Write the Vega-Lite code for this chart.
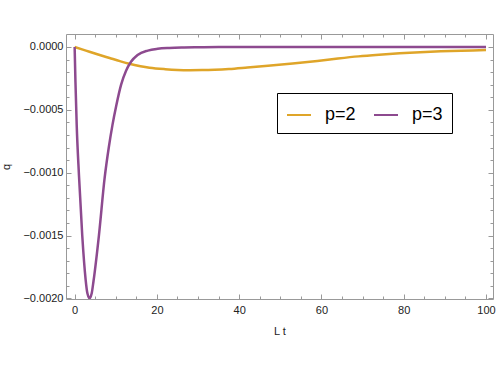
{
  "$schema": "https://vega.github.io/schema/vega-lite/v6.json",
  "width": 427,
  "height": 265,
  "autosize": "none",
  "padding": {"left": 66, "top": 34, "right": 5, "bottom": 75},
  "config": {
    "font": "Liberation Sans",
    "view": {"stroke": null},
    "axis": {
      "grid": false,
      "labelFontSize": 11,
      "labelColor": "#222222",
      "tickColor": "#999999",
      "domainColor": "#999999",
      "titleFontSize": 11,
      "titleFontWeight": "normal",
      "titleColor": "#222222"
    }
  },
  "data": {
    "values": [
      {"t": 0, "q": 0, "p": "p=2"},
      {"t": 2, "q": -0.000021, "p": "p=2"},
      {"t": 3.6, "q": -0.000038, "p": "p=2"},
      {"t": 5.9, "q": -0.000062, "p": "p=2"},
      {"t": 8.5, "q": -0.000088, "p": "p=2"},
      {"t": 11, "q": -0.000113, "p": "p=2"},
      {"t": 13.3, "q": -0.000134, "p": "p=2"},
      {"t": 16, "q": -0.000153, "p": "p=2"},
      {"t": 18.2, "q": -0.000165, "p": "p=2"},
      {"t": 22, "q": -0.000177, "p": "p=2"},
      {"t": 25, "q": -0.000183, "p": "p=2"},
      {"t": 28, "q": -0.000185, "p": "p=2"},
      {"t": 31, "q": -0.000184, "p": "p=2"},
      {"t": 34, "q": -0.000181, "p": "p=2"},
      {"t": 37.5, "q": -0.000175, "p": "p=2"},
      {"t": 42, "q": -0.000163, "p": "p=2"},
      {"t": 47, "q": -0.000149, "p": "p=2"},
      {"t": 53, "q": -0.000131, "p": "p=2"},
      {"t": 59, "q": -0.000111, "p": "p=2"},
      {"t": 64, "q": -0.000092, "p": "p=2"},
      {"t": 69, "q": -0.000075, "p": "p=2"},
      {"t": 74, "q": -0.000062, "p": "p=2"},
      {"t": 79, "q": -0.000051, "p": "p=2"},
      {"t": 84, "q": -0.000042, "p": "p=2"},
      {"t": 89, "q": -0.000035, "p": "p=2"},
      {"t": 94, "q": -0.00003, "p": "p=2"},
      {"t": 100, "q": -0.000025, "p": "p=2"},
      {"t": 0, "q": 0, "p": "p=3"},
      {"t": 0.2, "q": -0.00028, "p": "p=3"},
      {"t": 0.5, "q": -0.00062, "p": "p=3"},
      {"t": 1.05, "q": -0.00102, "p": "p=3"},
      {"t": 1.85, "q": -0.0015, "p": "p=3"},
      {"t": 2.67, "q": -0.00185, "p": "p=3"},
      {"t": 3.1, "q": -0.00196, "p": "p=3"},
      {"t": 3.63, "q": -0.002, "p": "p=3"},
      {"t": 4.15, "q": -0.00196, "p": "p=3"},
      {"t": 4.6, "q": -0.00186, "p": "p=3"},
      {"t": 5.9, "q": -0.0015, "p": "p=3"},
      {"t": 7.3, "q": -0.00104, "p": "p=3"},
      {"t": 8.3, "q": -0.0008, "p": "p=3"},
      {"t": 9.2, "q": -0.00062, "p": "p=3"},
      {"t": 10.1, "q": -0.00047, "p": "p=3"},
      {"t": 11.3, "q": -0.0003, "p": "p=3"},
      {"t": 12.5, "q": -0.00019, "p": "p=3"},
      {"t": 13.7, "q": -0.000118, "p": "p=3"},
      {"t": 15.3, "q": -0.000064, "p": "p=3"},
      {"t": 17.8, "q": -0.000029, "p": "p=3"},
      {"t": 20.2, "q": -0.000015, "p": "p=3"},
      {"t": 23, "q": -0.000008, "p": "p=3"},
      {"t": 26, "q": -0.000004, "p": "p=3"},
      {"t": 30, "q": -0.000002, "p": "p=3"},
      {"t": 35, "q": -0.000001, "p": "p=3"},
      {"t": 40, "q": 0, "p": "p=3"},
      {"t": 60, "q": 0, "p": "p=3"},
      {"t": 80, "q": 0, "p": "p=3"},
      {"t": 100, "q": 0, "p": "p=3"}
    ]
  },
  "resolve": {"axis": {"x": "independent", "y": "independent"}},
  "layer": [
    {
      "mark": {"type": "line", "strokeWidth": 2.5, "interpolate": "monotone", "clip": true},
      "encoding": {
        "x": {
          "field": "t", "type": "quantitative",
          "scale": {"domain": [-2.1, 101.7], "nice": false, "zero": false},
          "axis": {
            "orient": "bottom",
            "title": "L t",
            "titlePadding": 8,
            "values": [0,5,10,15,20,25,30,35,40,45,50,55,60,65,70,75,80,85,90,95,100],
            "labelExpr": "datum.value % 20 === 0 ? datum.label : ''",
            "tickSize": {"condition": {"test": "datum.value % 20 === 0", "value": -5}, "value": -3},
            "labelPadding": 10,
            "labelFlush": false,
            "labelOverlap": false
          }
        },
        "y": {
          "field": "q", "type": "quantitative",
          "scale": {"domain": [-0.002005, 0.000103], "nice": false, "zero": false},
          "axis": {
            "orient": "left",
            "title": "q",
            "titlePadding": 11,
            "format": ".4f",
            "values": [0,-0.0001,-0.0002,-0.0003,-0.0004,-0.0005,-0.0006,-0.0007,-0.0008,-0.0009,-0.001,-0.0011,-0.0012,-0.0013,-0.0014,-0.0015,-0.0016,-0.0017,-0.0018,-0.0019,-0.002],
            "labelExpr": "abs(round(datum.value*10000)) % 5 === 0 ? datum.label : ''",
            "tickSize": {"condition": {"test": "abs(round(datum.value*10000)) % 5 === 0", "value": -5}, "value": -3},
            "labelPadding": 8,
            "labelFlush": false,
            "labelOverlap": false
          }
        },
        "color": {
          "field": "p", "type": "nominal",
          "scale": {"domain": ["p=2", "p=3"], "range": ["#DFA529", "#8D4A8F"]},
          "legend": {
            "orient": "none",
            "legendX": 211,
            "legendY": 59,
            "direction": "horizontal",
            "title": null,
            "fillColor": "white",
            "strokeColor": "black",
            "padding": 9,
            "symbolType": "stroke",
            "symbolSize": 576,
            "symbolStrokeWidth": 2,
            "labelFontSize": 18,
            "labelColor": "black",
            "labelOffset": 13,
            "columnPadding": 14
          }
        }
      }
    },
    {
      "mark": {"type": "line", "opacity": 0},
      "encoding": {
        "x": {
          "field": "t", "type": "quantitative",
          "axis": {
            "orient": "top",
            "title": null,
            "labels": false,
            "values": [0,5,10,15,20,25,30,35,40,45,50,55,60,65,70,75,80,85,90,95,100],
            "tickSize": {"condition": {"test": "datum.value % 20 === 0", "value": -5}, "value": -3}
          }
        },
        "y": {
          "field": "q", "type": "quantitative",
          "axis": {
            "orient": "right",
            "title": null,
            "labels": false,
            "values": [0,-0.0001,-0.0002,-0.0003,-0.0004,-0.0005,-0.0006,-0.0007,-0.0008,-0.0009,-0.001,-0.0011,-0.0012,-0.0013,-0.0014,-0.0015,-0.0016,-0.0017,-0.0018,-0.0019,-0.002],
            "tickSize": {"condition": {"test": "abs(round(datum.value*10000)) % 5 === 0", "value": -5}, "value": -3}
          }
        },
        "detail": {"field": "p", "type": "nominal"}
      }
    }
  ]
}
